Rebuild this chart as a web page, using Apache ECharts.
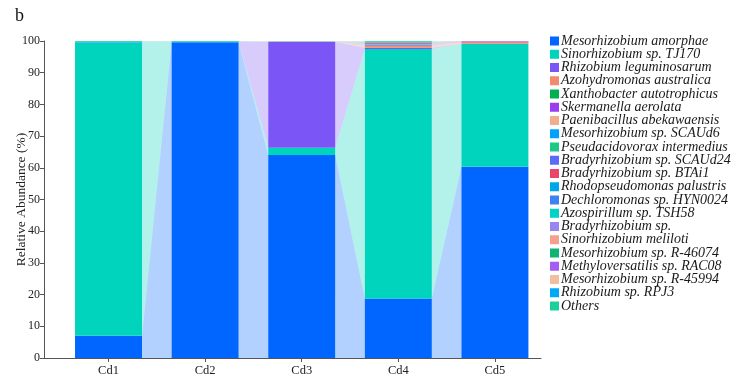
<!DOCTYPE html>
<html>
<head>
	<meta charset="utf-8">
	<title>Relative Abundance</title>
	<script src="https://cdn.jsdelivr.net/npm/echarts@6/dist/echarts.min.js"></script>
	<style>
		html, body { margin: 0; padding: 0; background: #fff; }
		#chart { width: 743px; height: 382px; }
	</style>
</head>
<body>
	<div id="chart"></div>
	<script>
		// samples on the x axis
		var samples = ['Cd1', 'Cd2', 'Cd3', 'Cd4', 'Cd5'];

		// species, bottom of the stack first
		var species = [
			'Mesorhizobium amorphae', 'Sinorhizobium sp. TJ170', 'Rhizobium leguminosarum',
			'Azohydromonas australica', 'Xanthobacter autotrophicus', 'Skermanella aerolata',
			'Paenibacillus abekawaensis', 'Mesorhizobium sp. SCAUd6', 'Pseudacidovorax intermedius',
			'Bradyrhizobium sp. SCAUd24', 'Bradyrhizobium sp. BTAi1', 'Rhodopseudomonas palustris',
			'Dechloromonas sp. HYN0024', 'Azospirillum sp. TSH58', 'Bradyrhizobium sp.',
			'Sinorhizobium meliloti', 'Mesorhizobium sp. R-46074', 'Methyloversatilis sp. RAC08',
			'Mesorhizobium sp. R-45994', 'Rhizobium sp. RPJ3', 'Others'
		];

		var colors = [
			'#0066ff', '#00d4bc', '#7b55f6', '#f28a70', '#00b050', '#9a3ff0', '#f2ae8c',
			'#00a2ff', '#1fc886', '#5a6cf6', '#e8446c', '#00a6ea', '#3d82f0', '#00d2c6',
			'#9a86f0', '#f5a08e', '#10b472', '#a45ef2', '#f3bea0', '#00a8f8', '#1ecf9e'
		];

		// relative abundance (%) per species, one value per sample Cd1..Cd5
		var abundance = [
			[7.0, 99.6, 64.0, 18.8, 60.3],
			[92.5, 0.2, 2.3, 78.7, 38.8],
			[0, 0, 33.5, 0.4, 0],
			[0, 0, 0, 0.6, 0.4],
			[0, 0, 0, 0.1, 0],
			[0, 0, 0, 0.1, 0],
			[0, 0, 0.05, 0.1, 0],
			[0.2, 0, 0, 0.1, 0],
			[0, 0, 0, 0.1, 0],
			[0, 0, 0, 0.1, 0],
			[0, 0, 0, 0.3, 0.3],
			[0.1, 0, 0, 0.05, 0],
			[0, 0, 0, 0.05, 0],
			[0, 0, 0, 0.1, 0],
			[0, 0, 0, 0, 0.1],
			[0, 0, 0, 0, 0],
			[0, 0, 0, 0.1, 0],
			[0, 0, 0, 0, 0.1],
			[0, 0, 0.1, 0.1, 0],
			[0, 0, 0, 0, 0],
			[0.2, 0.2, 0.05, 0.2, 0]
		];

		var yTicks = [0, 10, 20, 30, 40, 50, 60, 70, 80, 90, 100];

		var BAR_W = 67;
		var serif = 'Liberation Serif';

		// lower edge of each species in each sample
		var base = [];
		var run = samples.map(function () { return 0; });
		abundance.forEach(function (row) {
			base.push(run.slice());
			run = run.map(function (v, i) { return v + row[i]; });
		});

		var series = [];

		// stacked bars, one series per species
		species.forEach(function (name, s) {
			series.push({
				name: name,
				type: 'custom',
				z: 3,
				clip: false,
				itemStyle: { color: colors[s] },
				encode: { x: 0, y: -1 },
				renderItem: function (params, api) {
					var i = api.value(0);
					var lo = api.coord([i, base[s][i]]);
					var hi = api.coord([i, base[s][i] + abundance[s][i]]);
					return {
						type: 'rect',
						shape: { x: lo[0] - BAR_W / 2, y: hi[1], width: BAR_W, height: lo[1] - hi[1] },
						style: { fill: colors[s] }
					};
				},
				data: abundance[s].map(function (v, i) { return [i, v]; })
			});
		});

		// ribbons joining each species between neighbouring bars
		var linkData = [];
		for (var g = 0; g < samples.length - 1; g++) {
			for (var s = 0; s < species.length; s++) {
				if (abundance[s][g] > 0 || abundance[s][g + 1] > 0) linkData.push([g, s]);
			}
		}
		series.push({
			type: 'custom',
			silent: true,
			z: 1,
			clip: false,
			encode: { x: 0, y: -1 },
			renderItem: function (params, api) {
				var g = api.value(0), s = api.value(1);
				var half = BAR_W / 2;
				var a0 = api.coord([g, base[s][g]]);
				var a1 = api.coord([g, base[s][g] + abundance[s][g]]);
				var b0 = api.coord([g + 1, base[s][g + 1]]);
				var b1 = api.coord([g + 1, base[s][g + 1] + abundance[s][g + 1]]);
				return {
					type: 'polygon',
					shape: {
						points: [
							[a0[0] + half, a0[1]], [a1[0] + half, a1[1]],
							[b1[0] - half, b1[1]], [b0[0] - half, b0[1]]
						]
					},
					style: { fill: colors[s], opacity: 0.3 }
				};
			},
			data: linkData
		});

		var chart = echarts.init(document.getElementById('chart'));
		chart.setOption({
			animation: false,
			title: {
				text: 'b', left: 10, top: 2,
				textStyle: { fontFamily: serif, fontSize: 18, fontWeight: 'normal', color: '#111' }
			},
			grid: { left: 44, right: 202, top: 41, bottom: 24, outerBoundsMode: 'none' },
			legend: {
				orient: 'vertical',
				left: 545, top: 29, height: 340,
				icon: 'rect',
				itemWidth: 9, itemHeight: 9, itemGap: -0.75,
				data: species,
				textStyle: {
					fontFamily: serif, fontStyle: 'italic', fontSize: 14,
					color: '#1a1a1a', lineHeight: 12, padding: [0, 0, 0, -3]
				}
			},
			xAxis: {
				type: 'value',
				min: -0.668, max: 4.477,
				splitLine: { show: false },
				axisLine: { show: true, onZero: false, lineStyle: { color: '#555' } },
				axisTick: { show: true, length: 4, customValues: [0, 1, 2, 3, 4], lineStyle: { color: '#555' } },
				axisLabel: {
					customValues: [0, 1, 2, 3, 4],
					formatter: function (v) { return samples[Math.round(v)]; },
					fontFamily: serif, fontSize: 12.5, color: '#222', margin: 6
				}
			},
			yAxis: {
				type: 'value',
				min: 0, max: 100, interval: 10,
				name: 'Relative Abundance (%)',
				nameLocation: 'middle',
				nameGap: 16,
				nameMoveOverlap: false,
				nameTextStyle: { fontFamily: serif, fontSize: 13.5, color: '#222' },
				splitLine: { show: false },
				axisLine: { show: true, onZero: false, lineStyle: { color: '#555' } },
				axisTick: { show: true, length: 4, lineStyle: { color: '#555' } },
				axisLabel: {
					customValues: yTicks,
					fontFamily: serif, fontSize: 12, color: '#222', margin: 4
				}
			},
			series: series
		});
	</script>
</body>
</html>
